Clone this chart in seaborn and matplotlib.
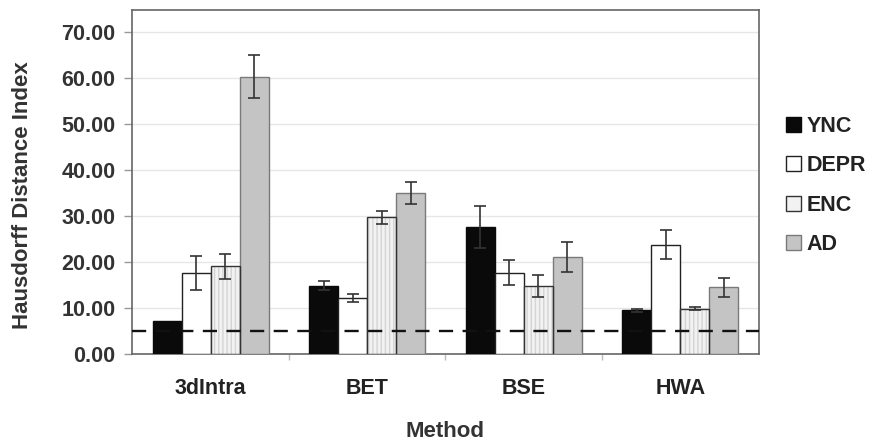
import matplotlib.pyplot as plt
import matplotlib.patches as mpatches
import pandas as pd
import seaborn as sns

methods = ["3dIntra", "BET", "BSE", "HWA"]
groups = ["YNC", "DEPR", "ENC", "AD"]
ync = [7.2, 14.9, 27.6, 9.5]
depr = [17.7, 12.2, 17.7, 23.8]
enc = [19.1, 29.7, 14.9, 9.9]
ad = [60.3, 35.0, 21.1, 14.5]
ync_err = [0.0, 0.9, 4.5, 0.3]
depr_err = [3.7, 0.8, 2.7, 3.1]
enc_err = [2.7, 1.4, 2.4, 0.3]
ad_err = [4.6, 2.4, 3.2, 2.1]
threshold = 5.0

fills = {"YNC": "#0a0a0a", "DEPR": "#ffffff", "ENC": "#f2f2f2", "AD": "#c4c4c4"}
edges = {"YNC": "#0a0a0a", "DEPR": "#222222", "ENC": "#333333", "AD": "#7a7a7a"}


def main() -> None:
    values = {"YNC": ync, "DEPR": depr, "ENC": enc, "AD": ad}
    errors = {"YNC": ync_err, "DEPR": depr_err, "ENC": enc_err, "AD": ad_err}
    rows = []
    for g in groups:
        for m, v, e in zip(methods, values[g], errors[g]):
            rows.append({"Method": m, "group": g, "value": v, "err": e})
    df = pd.DataFrame(rows)

    sns.set_theme(style="white")
    plt.rcParams["font.family"] = ["Liberation Sans", "DejaVu Sans"]
    plt.rcParams["font.weight"] = "bold"

    fig, ax = plt.subplots(figsize=(8.76, 4.45), dpi=100)
    fig.subplots_adjust(left=0.151, right=0.866, top=0.978, bottom=0.204)

    sns.barplot(
        data=df, x="Method", y="value", hue="group", order=methods, hue_order=groups,
        palette=fills, width=0.74, errorbar=None, legend=False, ax=ax, zorder=3,
    )

    for i, g in enumerate(groups):
        container = ax.containers[i]
        sub = df[df["group"] == g].set_index("Method").loc[methods]
        xs, ys = [], []
        for bar in container:
            bar.set_edgecolor(edges[g])
            bar.set_linewidth(1.0)
            xs.append(bar.get_x() + bar.get_width() / 2)
            ys.append(bar.get_height())
            if g == "ENC":
                bar.set_hatch("||||")
                bar.set_edgecolor("#d4d4d4")
                bar.set_linewidth(0.0)
                outline = mpatches.Rectangle(
                    (bar.get_x(), bar.get_y()), bar.get_width(), bar.get_height(),
                    fill=False, edgecolor=edges[g], linewidth=1.0, zorder=4,
                )
                ax.add_patch(outline)
        errs = sub["err"].values
        mask = errs > 0
        ax.errorbar(
            [x for x, k in zip(xs, mask) if k], [y for y, k in zip(ys, mask) if k],
            yerr=[e for e, k in zip(errs, mask) if k], fmt="none", ecolor="#333333",
            elinewidth=1.2, capsize=4, capthick=1.2, zorder=5,
        )

    ax.axhline(threshold, color="#111111", linestyle=(0, (6, 4)), linewidth=1.7, zorder=6)

    ax.set_ylim(0, 74.8)
    ax.set_xlim(-0.5, 3.5)
    ax.set_yticks(range(0, 71, 10))
    ax.set_yticklabels([f"{v:.2f}" for v in range(0, 71, 10)])
    ax.yaxis.grid(True, color="#e6e6e6", linewidth=1.0, zorder=0)
    ax.set_axisbelow(True)
    ax.tick_params(axis="y", left=True, length=6, width=1, color="#999999",
                   labelsize=15.5, labelcolor="#333333", pad=6)
    ax.tick_params(axis="x", bottom=False, labelsize=15.5, labelcolor="#222222", pad=11)
    ax.set_xticks([0.5, 1.5, 2.5], minor=True)
    ax.tick_params(axis="x", which="minor", bottom=True, length=4, color="#bbbbbb")
    for label in ax.get_xticklabels() + ax.get_yticklabels():
        label.set_fontweight("bold")
    for spine in ax.spines.values():
        spine.set_color("#666666")
        spine.set_linewidth(1.2)

    ax.set_xlabel("Method", fontsize=16, fontweight="bold", color="#333333", labelpad=16)
    ax.set_ylabel("Hausdorff Distance Index", fontsize=16, fontweight="bold",
                  color="#333333")
    ax.yaxis.set_label_coords(-0.158, 0.461)

    handles = [
        mpatches.Patch(facecolor=fills[g], edgecolor=edges[g], label=g) for g in groups
    ]
    leg = ax.legend(
        handles=handles, loc="center left", bbox_to_anchor=(1.02, 0.49), frameon=False,
        fontsize=15.5, handlelength=0.7, handleheight=0.7, handletextpad=0.25,
        labelspacing=0.85, borderaxespad=0.3,
    )
    for t in leg.get_texts():
        t.set_fontweight("bold")
        t.set_color("#222222")

    fig.savefig("out.png", dpi=100)
    plt.close(fig)


if __name__ == "__main__":
    main()
